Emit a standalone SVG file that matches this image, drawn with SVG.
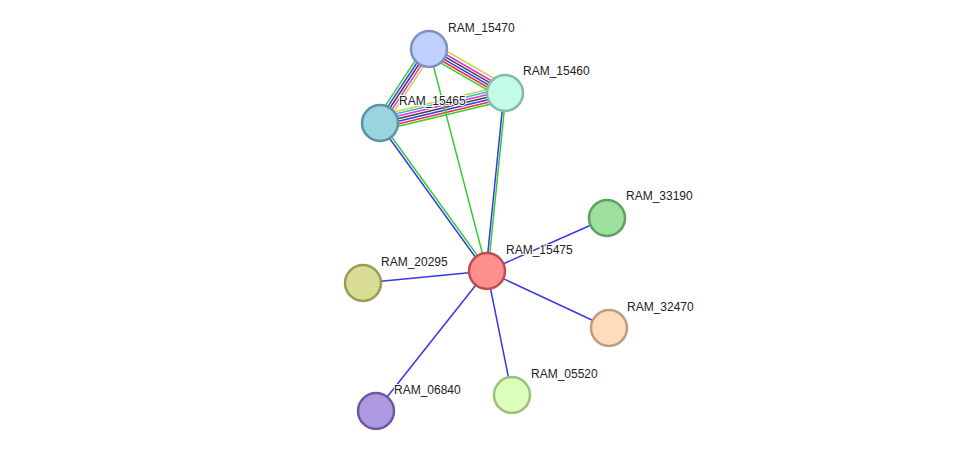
<svg xmlns="http://www.w3.org/2000/svg" width="976" height="457" viewBox="0 0 976 457">
<style>
.n{stroke-width:2.5}
.l{font-family:"Liberation Sans",Arial,sans-serif;font-size:12px;fill:#222;stroke:#fff;stroke-width:2;paint-order:stroke;stroke-linejoin:round}
.e line{stroke-width:1.5;fill:none}
.g{stroke:#33cc33}.b{stroke:#3636ee}.r{stroke:#ee3333}.m{stroke:#dd33dd}.k{stroke:#444}.y{stroke:#c8d23c}.c{stroke:#33bbcc}
</style>
<rect width="976" height="457" fill="#fff"/>
<g id="connectors" class="e">
<!-- 15470-15460 -->
<line class="y" x1="432.5" y1="42.9" x2="508.5" y2="86.9"/>
<line class="m" x1="430.9" y1="45.75" x2="506.9" y2="89.75"/>
<line class="k" x1="429.6" y1="47.9" x2="505.6" y2="91.9"/>
<line class="b" x1="428.4" y1="50.1" x2="504.4" y2="94.1"/>
<line class="r" x1="427.1" y1="52.25" x2="503.1" y2="96.25"/>
<line class="g" x1="425.9" y1="54.4" x2="501.9" y2="98.4"/>
<!-- 15465-15470 -->
<line class="g" x1="375.8" y1="120.2" x2="424.8" y2="46.2"/>
<line class="b" x1="377.9" y1="121.6" x2="426.9" y2="47.6"/>
<line class="k" x1="380" y1="123" x2="429" y2="49"/>
<line class="m" x1="382.1" y1="124.4" x2="431.1" y2="50.4"/>
<line class="y" x1="384.2" y1="125.8" x2="433.2" y2="51.8"/>
<!-- 15465-15460 -->
<line class="y" x1="378.25" y1="115.7" x2="503.25" y2="85.7"/>
<line class="c" x1="378.8" y1="118.1" x2="503.8" y2="88.1"/>
<line class="m" x1="379.4" y1="120.6" x2="504.4" y2="90.6"/>
<line class="k" x1="380" y1="123" x2="505" y2="93"/>
<line class="b" x1="380.6" y1="125.4" x2="505.6" y2="95.4"/>
<line class="r" x1="381.2" y1="127.9" x2="506.2" y2="97.9"/>
<line class="g" x1="381.75" y1="130.3" x2="506.75" y2="100.3"/>
<!-- 15475 edges -->
<line class="b" x1="379" y1="123.8" x2="486" y2="271.8"/>
<line class="g" x1="381" y1="122.2" x2="488" y2="270.2"/>
<line class="g" x1="429" y1="49" x2="487" y2="271"/>
<line class="b" x1="504" y1="93" x2="486" y2="271"/>
<line class="g" x1="506" y1="93" x2="488" y2="271"/>
<line class="b" x1="487" y1="271" x2="607" y2="218"/>
<line class="b" x1="487" y1="271" x2="363" y2="283"/>
<line class="b" x1="487" y1="271" x2="609" y2="328"/>
<line class="b" x1="487" y1="271" x2="512" y2="395"/>
<line class="b" x1="487" y1="271" x2="376" y2="411"/>
</g>
<g id="RAM_15470"><circle class="n" cx="429" cy="49" r="18" fill="#bfcfff" stroke="#7f8fbf"/><text class="l" x="448" y="32">RAM_15470</text></g>
<g id="RAM_15460"><circle class="n" cx="505" cy="93" r="18" fill="#c2fce6" stroke="#82bca6"/><text class="l" x="523" y="75">RAM_15460</text></g>
<g id="RAM_15465"><circle class="n" cx="380" cy="123" r="18" fill="#9ad4e0" stroke="#5a94a0"/><text class="l" x="399" y="105">RAM_15465</text></g>
<g id="RAM_15475"><circle class="n" cx="487" cy="271" r="18" fill="#ff8f8f" stroke="#bf4f4f"/><text class="l" x="506" y="254">RAM_15475</text></g>
<g id="RAM_33190"><circle class="n" cx="607" cy="218" r="18" fill="#9ee09e" stroke="#5ea05e"/><text class="l" x="626" y="200">RAM_33190</text></g>
<g id="RAM_20295"><circle class="n" cx="363" cy="283" r="18" fill="#d9dc94" stroke="#999c54"/><text class="l" x="381" y="266">RAM_20295</text></g>
<g id="RAM_32470"><circle class="n" cx="609" cy="328" r="18" fill="#ffdcbc" stroke="#bf9c7c"/><text class="l" x="627" y="311">RAM_32470</text></g>
<g id="RAM_05520"><circle class="n" cx="512" cy="395" r="18" fill="#dcffbe" stroke="#9cbf7e"/><text class="l" x="531" y="378">RAM_05520</text></g>
<g id="RAM_06840"><circle class="n" cx="376" cy="411" r="18" fill="#ae9ae0" stroke="#6e5aa0"/><text class="l" x="394" y="394">RAM_06840</text></g>
</svg>
